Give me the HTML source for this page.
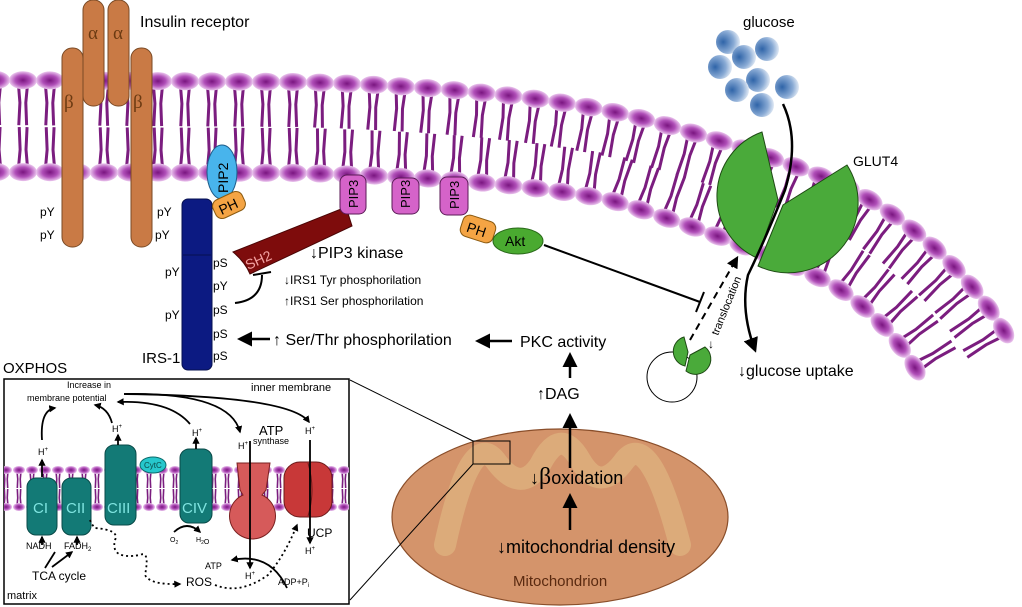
<!DOCTYPE html>
<html><head><meta charset="utf-8"><style>
html,body{margin:0;padding:0;background:#fff;}
svg{display:block;font-family:"Liberation Sans",sans-serif;}
</style></head><body>
<svg id="s" width="1022" height="607" viewBox="0 0 1022 607" xmlns="http://www.w3.org/2000/svg">
<defs>
<radialGradient id="hg" cx="0.5" cy="0.5" r="0.5"><stop offset="0" stop-color="#7a1580"/><stop offset="0.55" stop-color="#b04fb8"/><stop offset="1" stop-color="#ebc6ee"/></radialGradient>
<radialGradient id="gg" cx="0.3" cy="0.5" r="0.75"><stop offset="0" stop-color="#2f64a8"/><stop offset="0.6" stop-color="#8aabd5"/><stop offset="1" stop-color="#f2f6fb"/></radialGradient>
<marker id="ah" viewBox="0 0 10 10" refX="8" refY="5" markerWidth="4" markerHeight="4" orient="auto"><path d="M0,0 L10,5 L0,10 z" fill="#000"/></marker>
<marker id="ahs" viewBox="0 0 10 10" refX="8" refY="5" markerWidth="6" markerHeight="6" orient="auto"><path d="M0,0 L10,5 L0,10 z" fill="#000"/></marker>
<clipPath id="oxc"><rect x="4" y="379" width="345" height="225"/></clipPath>
</defs>
<g id="mem"></g>
<path id="ptop" d="M-10,80 L300,82 Q520,88 640,118 Q760,150 850,188 Q960,250 1012,345" fill="none"/>
<path id="pbot" d="M-10,172 L300,173 Q500,178 610,200 Q740,240 830,283 Q890,320 922,380" fill="none"/>

<!-- Insulin receptor -->
<g fill="#c97a45" stroke="#7a4a25" stroke-width="1">
<rect x="83" y="0" width="21" height="106" rx="10"/>
<rect x="108" y="0" width="21" height="106" rx="10"/>
<rect x="62" y="48" width="21" height="199" rx="10"/>
<rect x="131" y="48" width="21" height="199" rx="10"/>
</g>
<g fill="#6b3a12" font-family="Liberation Serif,serif" font-size="19">
<text x="88" y="39">α</text><text x="113" y="39">α</text>
<text x="64" y="108">β</text><text x="133" y="108">β</text>
</g>
<text x="140" y="27" font-size="16">Insulin receptor</text>
<g font-size="12"><text x="40" y="216">pY</text><text x="40" y="239">pY</text><text x="157" y="216">pY</text><text x="155" y="239">pY</text></g>

<!-- IRS-1 -->
<rect x="182" y="199" width="30" height="171" rx="6" fill="#0c1a82" stroke="#061050"/>
<line x1="183" y1="255" x2="211" y2="255" stroke="#061050"/>
<text x="142" y="363" font-size="15">IRS-1</text>
<g font-size="12"><text x="165" y="276">pY</text><text x="165" y="319">pY</text>
<text x="213" y="267">pS</text><text x="213" y="290">pY</text><text x="213" y="314">pS</text><text x="213" y="338">pS</text><text x="213" y="360">pS</text></g>
<!-- PIP2 & PH -->
<ellipse cx="222" cy="172" rx="15" ry="27" fill="#48b4ec" stroke="#1d5c8a"/>
<text transform="translate(228,193) rotate(-90)" font-size="14">PIP2</text>
<g transform="translate(229,205) rotate(-25)"><rect x="-16" y="-10" width="32" height="20" rx="7" fill="#f4a444" stroke="#8a5a10"/><text x="-11" y="6" font-size="14">PH</text></g>
<!-- SH2 bar -->
<path d="M233,252 L346,207 L352,226 L250,274 Q245,262 233,252 Z" fill="#7e0c0c" stroke="#4a0505"/>
<text transform="translate(248,270) rotate(-24)" font-size="14" fill="#f2a0a0">SH2</text>
<path d="M235,303 Q262,300 262,275" fill="none" stroke="#000" stroke-width="2"/>
<line x1="253" y1="275" x2="271" y2="272" stroke="#000" stroke-width="2"/>
<!-- PIP3 -->
<g fill="#d563c9" stroke="#5a1a56">
<rect x="340" y="175" width="26" height="39" rx="7"/><rect x="392" y="178" width="27" height="36" rx="7"/><rect x="440" y="177" width="28" height="38" rx="7"/></g>
<g font-size="13"><text transform="translate(358,208) rotate(-90)">PIP3</text><text transform="translate(410,208) rotate(-90)">PIP3</text><text transform="translate(459,209) rotate(-90)">PIP3</text></g>
<g transform="translate(478,229) rotate(18)"><rect x="-17" y="-11" width="34" height="22" rx="7" fill="#f4a444" stroke="#8a5a10"/><text x="-11" y="6" font-size="14">PH</text></g>
<ellipse cx="518" cy="241" rx="25" ry="13" fill="#4aaa30" stroke="#2a6a1a"/>
<text x="505" y="246" font-size="14">Akt</text>
<line x1="544" y1="245" x2="700" y2="302" stroke="#000" stroke-width="2"/>
<line x1="696" y1="312" x2="704" y2="292" stroke="#000" stroke-width="2"/>

<text x="310" y="258" font-size="16">↓PIP3 kinase</text>
<text x="284" y="284" font-size="12">↓IRS1 Tyr phosphorilation</text>
<text x="284" y="305" font-size="12">↑IRS1 Ser phosphorilation</text>
<text x="273" y="345" font-size="16">↑ Ser/Thr phosphorilation</text>
<line x1="270" y1="339" x2="240" y2="339" stroke="#000" stroke-width="2.5" marker-end="url(#ahs)"/>
<line x1="512" y1="341" x2="478" y2="341" stroke="#000" stroke-width="2.5" marker-end="url(#ahs)"/>
<text x="520" y="347" font-size="16">PKC activity</text>
<line x1="570" y1="378" x2="570" y2="355" stroke="#000" stroke-width="2.5" marker-end="url(#ahs)"/>
<text x="537" y="399" font-size="16">↑DAG</text>

<!-- Mitochondrion -->
<ellipse cx="560" cy="517" rx="168" ry="88" fill="#d4946b" stroke="#8a4e2a" stroke-width="1.2"/>
<path d="M445,545 Q470,430 495,460 Q520,495 540,465 Q560,425 580,460 Q600,495 625,460 Q650,430 680,545" fill="none" stroke="#dcab7a" stroke-width="22" stroke-linecap="round"/>
<line x1="570" y1="468" x2="570" y2="416" stroke="#000" stroke-width="2.5" marker-end="url(#ahs)"/>
<line x1="570" y1="530" x2="570" y2="496" stroke="#000" stroke-width="2.5" marker-end="url(#ahs)"/>
<text x="530" y="484" font-size="18">↓<tspan font-family="Liberation Serif,serif" font-size="24">β</tspan>oxidation</text>
<text x="497" y="553" font-size="18">↓mitochondrial density</text>
<text x="513" y="586" font-size="15" fill="#5a2a10">Mitochondrion</text>
<rect x="473" y="441" width="37" height="23" fill="none" stroke="#000"/>
<line x1="473" y1="441" x2="350" y2="380" stroke="#000"/>
<line x1="473" y1="464" x2="350" y2="600" stroke="#000"/>

<!-- GLUT4 area -->
<g id="glu"></g>
<text x="743" y="27" font-size="15">glucose</text>
<text x="853" y="166" font-size="14">GLUT4</text>
<path d="M762,132 L778,200 L757,258 A68,68 0 0 1 762,132 Z" fill="#4aaa3a" stroke="#1e4a14"/>
<path d="M847,165 L783,205 L758,266 A70,70 0 0 0 847,165 Z" fill="#4aaa3a" stroke="#1e4a14"/>
<path d="M783,104 Q800,140 785,190 Q765,240 748,275 Q740,310 755,350" fill="none" stroke="#000" stroke-width="2.5" marker-end="url(#ahs)"/>
<text x="738" y="376" font-size="16">↓glucose uptake</text>
<line x1="690" y1="340" x2="737" y2="258" stroke="#000" stroke-width="2" stroke-dasharray="7,5" marker-end="url(#ahs)"/>
<text transform="translate(718,336) rotate(-68)" font-size="11">translocation</text>
<text x="708" y="348" font-size="12">↓</text>
<circle cx="672" cy="377" r="25" fill="#fff" stroke="#000"/>
<path d="M684,337 L688,352 L685,366 A15,15 0 0 1 684,337 Z" fill="#4aaa3a" stroke="#1e4a14"/>
<path d="M705,347 L690,355 L686,371 A12,12 0 0 0 705,347 Z" fill="#4aaa3a" stroke="#1e4a14"/>

<!-- OXPHOS -->
<text x="3" y="373" font-size="15">OXPHOS</text>
<rect x="4" y="379" width="345" height="225" fill="#fff" stroke="#000" stroke-width="1.5"/>
<g id="oxm" clip-path="url(#oxc)"></g>
<g fill="#137a76" stroke="#0a4a48">
<rect x="27" y="478" width="30" height="57" rx="9"/><rect x="62" y="478" width="29" height="57" rx="9"/>
<rect x="105" y="445" width="31" height="80" rx="9"/><rect x="180" y="449" width="32" height="74" rx="9"/></g>
<ellipse cx="153" cy="465" rx="13" ry="8" fill="#26c7cc" stroke="#0a6a6a"/>
<text x="144" y="468" font-size="8" fill="#0a4a48">CytC</text>
<g fill="#7fe4e0" font-size="15"><text x="33" y="513">CI</text><text x="66" y="513">CII</text><text x="107" y="513">CIII</text><text x="182" y="513">CIV</text></g>
<path d="M237,463 L270,463 L266,490 L262,495 A23,23 0 1 1 243,495 L240,490 Z" fill="#d65a5a" stroke="#7a2020"/>
<rect x="284" y="462" width="48" height="55" rx="16" fill="#c83838" stroke="#6a1a1a"/>
<path d="M308,463 Q316,490 308,516" fill="none" stroke="#6a1a1a"/>
<g font-size="9"><text x="67" y="388">Increase in</text><text x="27" y="401">membrane potential</text></g>
<text x="251" y="391" font-size="11">inner membrane</text>
<text x="259" y="435" font-size="13">ATP</text><text x="253" y="444" font-size="9">synthase</text>
<g font-size="9"><text x="38" y="455">H<tspan font-size="6" dy="-4">+</tspan></text><text x="112" y="432">H<tspan font-size="6" dy="-4">+</tspan></text><text x="192" y="436">H<tspan font-size="6" dy="-4">+</tspan></text><text x="238" y="449">H<tspan font-size="6" dy="-4">+</tspan></text><text x="305" y="434">H<tspan font-size="6" dy="-4">+</tspan></text><text x="305" y="554">H<tspan font-size="6" dy="-4">+</tspan></text><text x="245" y="579">H<tspan font-size="6" dy="-4">+</tspan></text>
<text x="26" y="549">NADH</text><text x="64" y="549">FADH<tspan font-size="6" dy="2">2</tspan></text>
<text x="205" y="569">ATP</text><text x="278" y="585">ADP+P<tspan font-size="6" dy="2">i</tspan></text></g>
<g font-size="7"><text x="170" y="542">O<tspan font-size="5" dy="2">2</tspan></text><text x="196" y="542">H<tspan font-size="5" dy="2">2</tspan>O</text></g>
<text x="32" y="580" font-size="12">TCA cycle</text>
<text x="186" y="586" font-size="12">ROS</text>
<text x="307" y="537" font-size="12">UCP</text>
<text x="7" y="599" font-size="11">matrix</text>
<g stroke="#000" stroke-width="1.8" fill="none">
<line x1="42" y1="477" x2="42" y2="460" marker-end="url(#ah)"/><line x1="118" y1="445" x2="118" y2="435" marker-end="url(#ah)"/><line x1="196" y1="449" x2="196" y2="438" marker-end="url(#ah)"/>
<line x1="42" y1="545" x2="42" y2="537" marker-end="url(#ah)"/><line x1="77" y1="545" x2="77" y2="537" marker-end="url(#ah)"/>
<path d="M42,440 Q40,410 55,408" marker-end="url(#ah)"/>
<path d="M112,423 Q108,408 95,405" marker-end="url(#ah)"/>
<path d="M190,424 Q170,400 118,402" marker-end="url(#ah)"/>
<path d="M124,394 Q230,392 240,432" marker-end="url(#ah)"/>
<path d="M124,394 Q290,396 309,422" marker-end="url(#ah)"/>
<line x1="250" y1="441" x2="250" y2="568" marker-end="url(#ah)"/>
<line x1="310" y1="440" x2="310" y2="543" marker-end="url(#ah)"/>
<path d="M45,568 L55,552 M52,567 L72,552" marker-end="url(#ah)"/>
<path d="M287,588 Q270,552 232,560" marker-end="url(#ah)"/>
<path d="M174,532 Q187,520 200,532" marker-end="url(#ah)"/>
<path d="M90,520 Q92,525 95,528 Q120,530 115,540 Q110,560 140,555 Q150,550 145,575 Q150,585 180,584" stroke-dasharray="2,3" marker-end="url(#ah)"/>
<path d="M215,585 Q240,595 268,575 Q285,555 297,525" stroke-dasharray="2,3" marker-end="url(#ah)"/>
</g>
</svg>
<script>
(function(){
var NS="http://www.w3.org/2000/svg";
function el(n,a,p){var e=document.createElementNS(NS,n);for(var k in a)e.setAttribute(k,a[k]);p.appendChild(e);return e;}
var mem=document.getElementById('mem');
function leaf(path,dir,sp,L,rx,ry,g,tails){
 var len=path.getTotalLength();var pts=[];
 for(var s=6;s<len;s+=sp){var p=path.getPointAtLength(s),q=path.getPointAtLength(Math.min(len,s+1)),r=path.getPointAtLength(Math.max(0,s-1));
  var tx=q.x-r.x,ty=q.y-r.y,m=Math.hypot(tx,ty);tx/=m;ty/=m;var nx=-ty*dir,ny=tx*dir;pts.push([p.x,p.y,tx,ty,nx,ny]);}
 pts.forEach(function(a){var x=a[0],y=a[1],tx=a[2],ty=a[3],nx=a[4],ny=a[5];
  for(var k=-1;k<=1;k+=2){var o=k*rx*0.35;var mx=x+nx*L*0.5+tx*o*0.6,my=y+ny*L*0.5+ty*o*0.6;
   el('polyline',{points:(x+tx*o)+','+(y+ty*o)+' '+mx+','+my+' '+(x+nx*L+tx*o*0.8)+','+(y+ny*L+ty*o*0.8),fill:'none',stroke:'#7b1d7f','stroke-width':tails},g);}});
 pts.forEach(function(a){var ang=Math.atan2(a[3],a[2])*180/Math.PI;
  el('ellipse',{cx:a[0],cy:a[1],rx:rx,ry:ry,fill:'url(#hg)',transform:'rotate('+ang+' '+a[0]+' '+a[1]+')'},g);});
}
leaf(document.getElementById('ptop'),1,27,45,14,9,mem,3);
leaf(document.getElementById('pbot'),-1,27,45,14,9,mem,3);
var ox=document.getElementById('oxm');
var t=el('path',{d:'M0,470 L360,470',fill:'none'},ox),b=el('path',{d:'M0,507 L360,507',fill:'none'},ox);
leaf(t,1,13,18,6,4,ox,1.6);leaf(b,-1,13,18,6,4,ox,1.6);
var glu=document.getElementById('glu');
[[728,42],[744,57],[767,49],[720,67],[758,80],[787,87],[737,90],[762,105]].forEach(function(c){el('circle',{cx:c[0],cy:c[1],r:12,fill:'url(#gg)'},glu);});
})();
</script>
</body></html>
